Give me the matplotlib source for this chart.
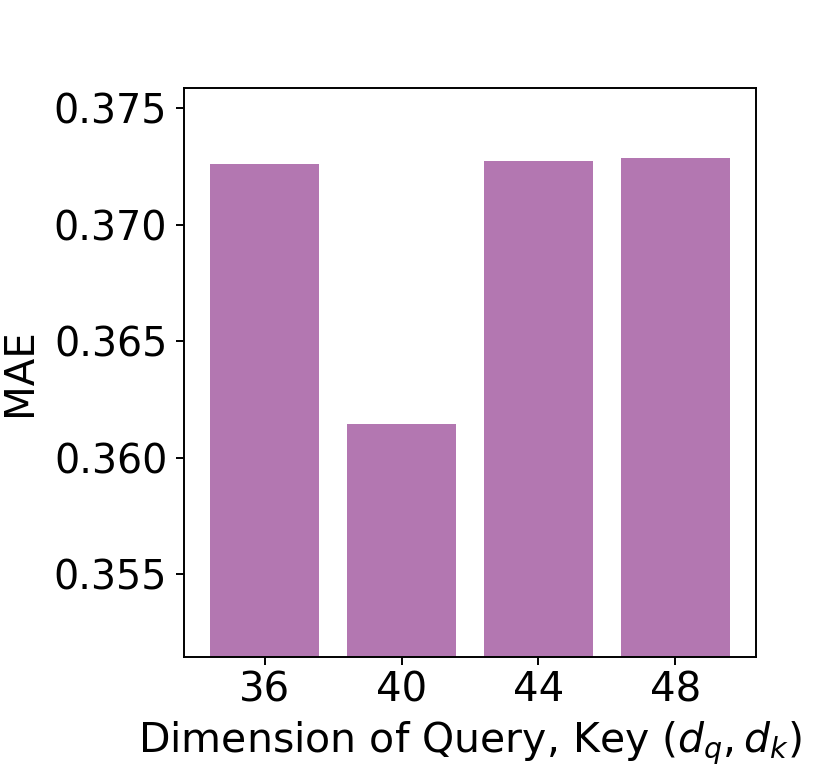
import matplotlib
matplotlib.use("Agg")
import matplotlib.pyplot as plt
import numpy as np

categories = ["36", "40", "44", "48"]
mae = [0.37262, 0.36144, 0.37276, 0.37288]
yticks = [0.355, 0.360, 0.365, 0.370, 0.375]

fig = plt.figure(figsize=(8.3, 7.69), dpi=100)
ax = fig.add_axes([0.2217, 0.1456, 0.6891, 0.74])

x = np.arange(len(categories))
ax.bar(x, mae, width=0.8, color="#b377b1")
ax.set_xticks(x)
ax.set_xticklabels(categories, fontsize=29)
ax.set_yticks(yticks)
ax.set_yticklabels([f"{v:.3f}" for v in yticks], fontsize=28.5)
ax.set_ylim(min(mae) - 0.01, max(mae) + 0.003)
ax.set_xlabel(r"Dimension of Query, Key $(d_q, d_k)$", fontsize=29.5, labelpad=7)
ax.set_ylabel("MAE", fontsize=29, labelpad=10)
ax.tick_params(length=6, width=1.4)
ax.tick_params(axis="y", pad=6)
for s in ax.spines.values():
    s.set_linewidth(1.4)

fig.savefig("out.png", dpi=100)
